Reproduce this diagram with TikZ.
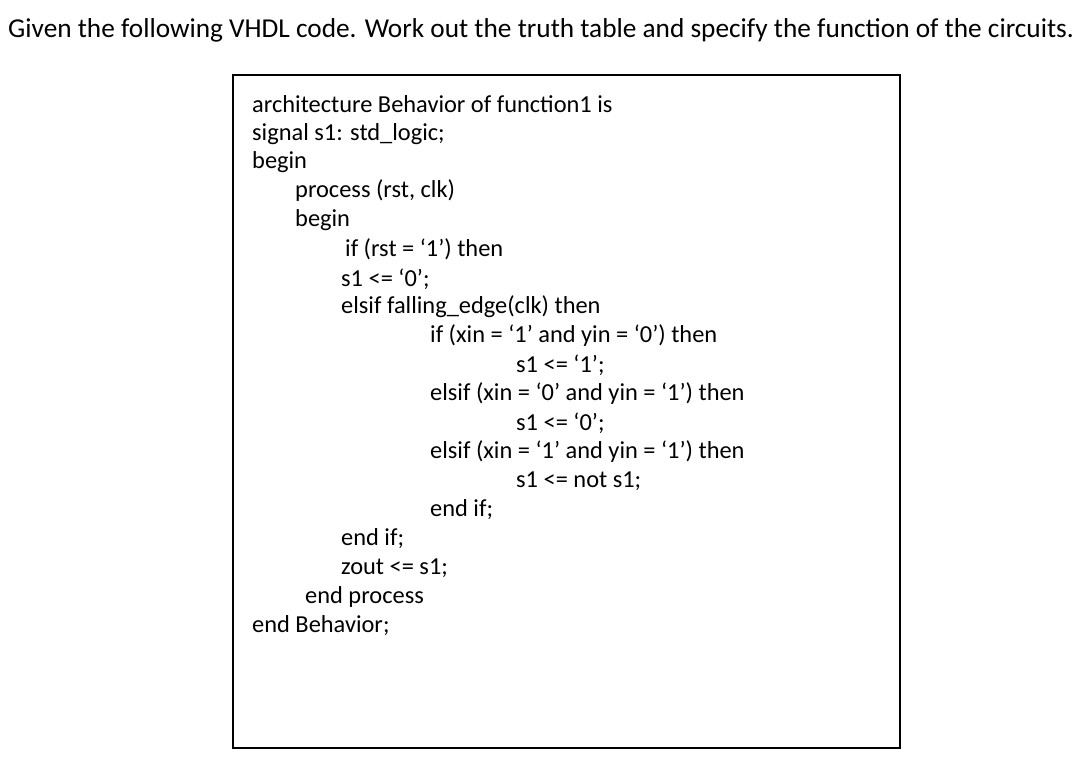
\documentclass[tikz,border=0pt]{standalone}
\usepackage{fontspec}
\setmainfont{Carlito}
\begin{document}
\begin{tikzpicture}[x=1pt,y=-1pt,
  txt/.style={anchor=west,inner sep=0pt,font=\fontsize{24.4}{28}\selectfont}]
\useasboundingbox[fill=white] (0,0) rectangle (1092,772);
\node[txt,font=\fontsize{27.3}{30}\selectfont] (title) at (8,30) {Given the following VHDL code. Work out the truth table and specify the function of the circuits.};
\draw[line width=1.2pt] (233,75) rectangle (900,748);
\node[txt] (l1) at (252,104) {architecture Behavior of function1 is};
\node[txt] (l2) at (252,134) {signal s1: std\_logic;};
\node[txt] (l3) at (252,162) {begin};
\node[txt] (l4) at (295,191) {process (rst, clk)};
\node[txt] (l5) at (295,220) {begin};
\node[txt] (l6) at (345,249) {if (rst = ‘1’) then};
\node[txt] (l7) at (341,279) {s1 <= ‘0’;};
\node[txt] (l8) at (341,307) {elsif falling\_edge(clk) then};
\node[txt] (l9) at (430,336) {if (xin = ‘1’ and yin = ‘0’) then};
\node[txt] (l10) at (516,365) {s1 <= ‘1’;};
\node[txt] (l11) at (430,394) {elsif (xin = ‘0’ and yin = ‘1’) then};
\node[txt] (l12) at (516,423) {s1 <= ‘0’;};
\node[txt] (l13) at (430,452) {elsif (xin = ‘1’ and yin = ‘1’) then};
\node[txt] (l14) at (516,481) {s1 <= not s1;};
\node[txt] (l15) at (430,510) {end if;};
\node[txt] (l16) at (341,539) {end if;};
\node[txt] (l17) at (341,568) {zout <= s1;};
\node[txt] (l18) at (305,597) {end process};
\node[txt] (l19) at (252,626) {end Behavior;};
\end{tikzpicture}
\end{document}
